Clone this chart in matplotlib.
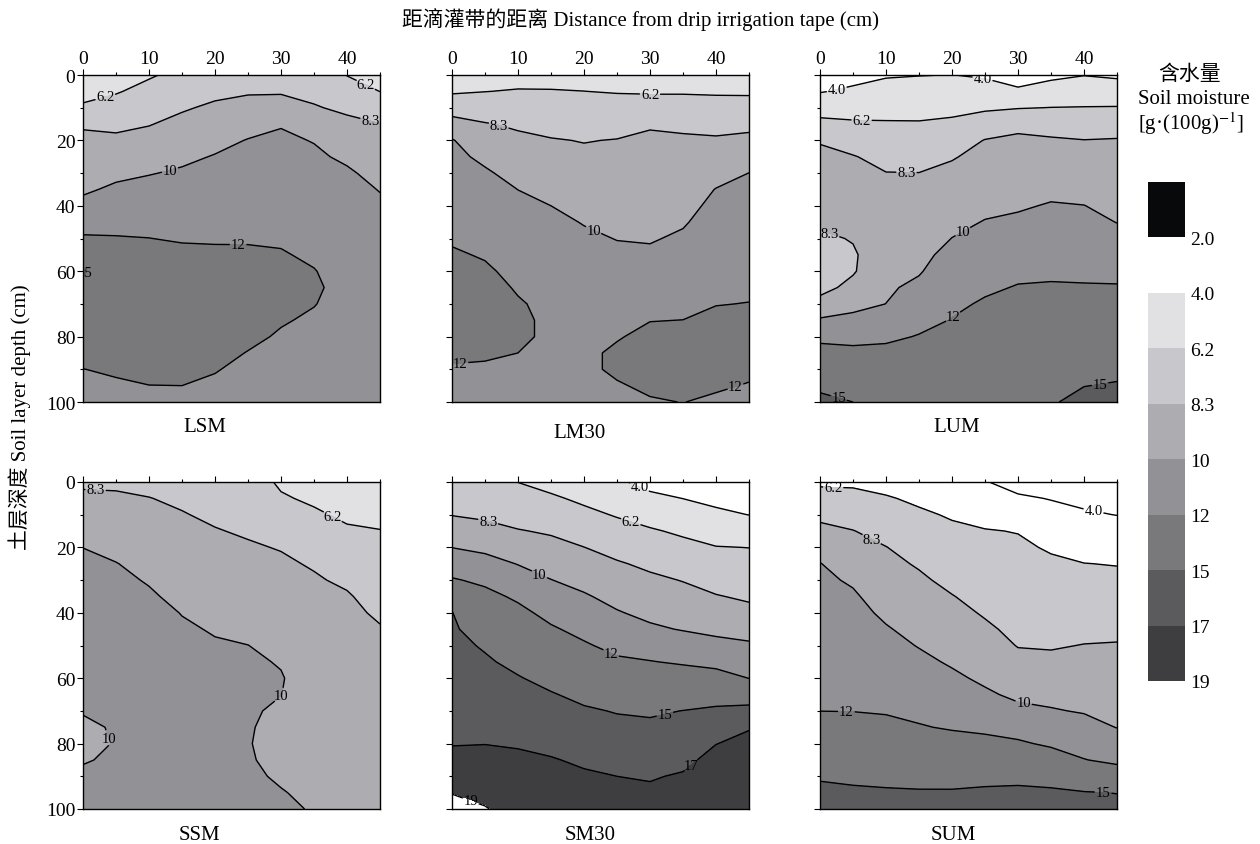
import numpy as np
import matplotlib
matplotlib.use("Agg")
import matplotlib.pyplot as plt
from matplotlib.colors import ListedColormap, BoundaryNorm
from matplotlib.cm import ScalarMappable

plt.rcParams['font.family'] = ['Liberation Serif', 'Noto Sans CJK SC']
plt.rcParams['mathtext.fontset'] = 'stix'

# ---------------- data ----------------
distance = [0, 5, 10, 15, 20, 25, 30, 35, 40, 45]            # cm from drip tape
depth = [0, 5, 10, 15, 20, 25, 30, 35, 40, 45, 50,
         55, 60, 65, 70, 75, 80, 85, 90, 95, 100]            # cm soil depth
levels = [4.0, 6.2, 8.3, 10, 12, 15, 17, 19]
level_text = ['4.0', '6.2', '8.3', '10', '12', '15', '17', '19']
panel_names = ['LSM', 'LM30', 'LUM', 'SSM', 'SM30', 'SUM']
cbar_bounds = [0.0, 2.0, 4.0, 6.2, 8.3, 10, 12, 15, 17, 19]
cbar_text = ['2.0', '4.0', '6.2', '8.3', '10', '12', '15', '17', '19']

# soil moisture, one depth profile (0..100 cm) per distance (0..45 cm)
LSM = [
    [5.0, 5.65, 6.43, 8.15, 8.58, 8.98, 9.38, 9.78, 10.40, 11.26, 12.22, 13.76, 15.2, 14.6, 14.08, 13.55, 13.03, 12.5, 11.98, 11.7, 11.5],
    [5.3, 6.05, 6.96, 7.92, 8.62, 9.15, 9.68, 10.25, 10.88, 11.51, 12.1, 12.8, 13.4, 13.6, 13.5, 13.3, 13.0, 12.6, 12.2, 11.8, 11.6],
    [6.0, 6.77, 7.50, 8.23, 8.81, 9.37, 9.93, 10.46, 10.98, 11.5, 12.02, 12.6, 13.1, 13.4, 13.5, 13.4, 13.2, 12.9, 12.5, 11.98, 11.7],
    [6.7, 7.42, 8.14, 8.70, 9.21, 9.71, 10.18, 10.6, 11.02, 11.43, 11.85, 12.4, 12.9, 13.2, 13.3, 13.2, 13.0, 12.7, 12.35, 12.0, 11.8],
    [7.3, 7.95, 8.55, 9.08, 9.6, 10.08, 10.43, 10.78, 11.13, 11.48, 11.83, 12.3, 12.8, 13.1, 13.1, 12.95, 12.7, 12.4, 12.07, 11.8, 11.6],
    [7.6, 8.15, 8.82, 9.48, 10.06, 10.36, 10.65, 10.95, 11.25, 11.55, 11.85, 12.25, 12.6, 12.8, 12.8, 12.6, 12.3, 11.95, 11.7, 11.5, 11.3],
    [7.6, 8.15, 8.96, 9.91, 10.24, 10.51, 10.77, 11.04, 11.31, 11.57, 11.84, 12.1, 12.35, 12.45, 12.4, 12.12, 11.85, 11.6, 11.4, 11.3, 11.2],
    [7.4, 7.89, 8.42, 9.18, 9.94, 10.24, 10.5, 10.76, 11.02, 11.28, 11.54, 11.8, 12.05, 12.2, 12.05, 11.8, 11.6, 11.45, 11.3, 11.2, 11.1],
    [6.15, 7.08, 8.0, 8.67, 9.21, 9.75, 10.2, 10.5, 10.8, 11.05, 11.25, 11.4, 11.5, 11.55, 11.5, 11.4, 11.3, 11.2, 11.1, 11.0, 10.95],
    [5.6, 6.18, 7.29, 8.34, 8.74, 9.14, 9.54, 9.94, 10.25, 10.5, 10.7, 10.85, 10.95, 11.0, 11.0, 10.95, 10.9, 10.85, 10.8, 10.75, 10.7],
]
LM30 = [
    [5.2, 5.97, 7.45, 9.03, 10.09, 10.37, 10.66, 10.95, 11.23, 11.52, 11.8, 12.2, 12.6, 12.85, 13.0, 12.95, 12.75, 12.3, 11.85, 11.6, 11.45],
    [5.4, 6.17, 7.32, 8.40, 9.05, 9.70, 10.18, 10.52, 10.85, 11.19, 11.52, 11.86, 12.25, 12.6, 12.8, 12.8, 12.6, 12.2, 11.8, 11.55, 11.4],
    [5.5, 6.32, 7.20, 8.07, 8.63, 9.09, 9.54, 9.99, 10.3, 10.6, 10.92, 11.23, 11.53, 11.84, 12.15, 12.3, 12.3, 12.0, 11.7, 11.5, 11.4],
    [5.5, 6.30, 7.03, 7.75, 8.40, 8.80, 9.20, 9.60, 10.0, 10.35, 10.7, 11.0, 11.25, 11.45, 11.6, 11.7, 11.7, 11.6, 11.5, 11.4, 11.3],
    [5.6, 6.21, 6.89, 7.56, 8.24, 8.6, 8.93, 9.26, 9.6, 9.93, 10.25, 10.55, 10.85, 11.1, 11.3, 11.5, 11.65, 11.75, 11.75, 11.7, 11.6],
    [5.6, 6.1, 6.89, 7.69, 8.36, 8.63, 8.9, 9.16, 9.43, 9.7, 9.96, 10.28, 10.6, 10.93, 11.26, 11.58, 11.91, 12.2, 12.2, 11.9, 11.7],
    [5.5, 6.03, 7.0, 8.18, 8.51, 8.74, 8.97, 9.2, 9.43, 9.66, 9.89, 10.23, 10.66, 11.1, 11.53, 11.97, 12.3, 12.5, 12.45, 12.2, 11.9],
    [5.5, 6.04, 6.95, 8.02, 8.5, 8.78, 9.05, 9.33, 9.6, 9.87, 10.2, 10.56, 10.92, 11.29, 11.65, 12.01, 12.3, 12.45, 12.4, 12.2, 12.02],
    [5.5, 6.01, 6.8, 7.74, 8.51, 9.03, 9.55, 10.04, 10.31, 10.59, 10.86, 11.14, 11.41, 11.69, 11.96, 12.3, 12.5, 12.55, 12.4, 12.15, 11.8],
    [5.5, 5.98, 6.83, 7.88, 8.70, 9.36, 10.01, 10.26, 10.51, 10.76, 11.02, 11.27, 11.52, 11.77, 12.03, 12.3, 12.45, 12.4, 12.25, 11.93, 11.7],
]
LUM = [
    [3.2, 3.89, 5.3, 6.77, 8.14, 8.8, 9.2, 9.3, 9.1, 8.6, 8.0, 7.5, 7.4, 7.8, 8.82, 10.19, 11.54, 12.65, 13.63, 14.62, 15.5],
    [3.4, 4.31, 5.4, 6.46, 7.46, 8.4, 8.7, 8.9, 8.9, 8.75, 8.4, 8.1, 8.15, 8.75, 9.53, 10.42, 11.47, 12.43, 13.29, 14.14, 15.0],
    [3.85, 4.63, 5.53, 6.38, 7.06, 7.74, 8.34, 8.55, 8.76, 8.97, 9.17, 9.38, 9.59, 9.8, 10.01, 10.85, 11.67, 12.45, 13.2, 13.7, 14.2],
    [3.95, 4.76, 5.57, 6.35, 7.02, 7.68, 8.32, 8.58, 8.84, 9.1, 9.36, 9.62, 9.88, 10.31, 10.9, 11.5, 12.09, 12.65, 13.15, 13.55, 13.9],
    [4.02, 4.86, 5.71, 6.55, 7.38, 8.2, 8.61, 8.96, 9.32, 9.67, 10.02, 10.43, 10.84, 11.25, 11.66, 12.07, 12.55, 13.0, 13.4, 13.75, 14.05],
    [3.8, 4.73, 5.92, 7.22, 8.37, 8.7, 9.04, 9.37, 9.71, 10.06, 10.48, 10.9, 11.31, 11.73, 12.2, 12.65, 13.05, 13.4, 13.7, 13.95, 14.2],
    [3.0, 4.35, 6.1, 7.93, 8.56, 8.88, 9.2, 9.52, 9.85, 10.24, 10.7, 11.17, 11.63, 12.1, 12.55, 13.0, 13.4, 13.75, 14.05, 14.3, 14.5],
    [3.6, 4.83, 6.23, 7.57, 8.49, 8.89, 9.29, 9.69, 10.1, 10.51, 10.92, 11.33, 11.74, 12.15, 12.6, 13.05, 13.45, 13.85, 14.2, 14.55, 14.85],
    [3.95, 5.09, 6.27, 7.33, 8.34, 8.76, 9.18, 9.6, 10.02, 10.44, 10.85, 11.27, 11.69, 12.12, 12.6, 13.07, 13.55, 14.02, 14.5, 14.97, 15.45],
    [3.7, 5.02, 6.3, 7.5, 8.41, 8.72, 9.03, 9.34, 9.66, 9.97, 10.49, 11.04, 11.58, 12.12, 12.62, 13.12, 13.62, 14.12, 14.62, 15.13, 15.6],
]
SSM = [
    [8.1, 8.54, 9.02, 9.51, 9.99, 10.25, 10.45, 10.6, 10.7, 10.75, 10.75, 10.7, 10.55, 10.35, 10.07, 9.8, 9.7, 9.9, 10.25, 10.45, 10.6],
    [8.1, 8.47, 8.86, 9.25, 9.65, 10.04, 10.25, 10.42, 10.55, 10.62, 10.65, 10.6, 10.5, 10.38, 10.25, 10.1, 10.06, 10.2, 10.35, 10.45, 10.55],
    [7.95, 8.33, 8.64, 8.96, 9.27, 9.59, 9.91, 10.15, 10.3, 10.42, 10.5, 10.55, 10.55, 10.5, 10.45, 10.4, 10.4, 10.42, 10.45, 10.5, 10.55],
    [7.8, 8.09, 8.37, 8.64, 8.9, 9.17, 9.43, 9.7, 9.97, 10.12, 10.22, 10.3, 10.35, 10.35, 10.35, 10.35, 10.35, 10.35, 10.38, 10.4, 10.42],
    [7.5, 7.79, 8.08, 8.37, 8.63, 8.89, 9.15, 9.41, 9.67, 9.93, 10.08, 10.15, 10.2, 10.22, 10.22, 10.22, 10.22, 10.22, 10.25, 10.27, 10.3],
    [7.2, 7.52, 7.83, 8.15, 8.44, 8.7, 8.96, 9.22, 9.48, 9.74, 10.01, 10.12, 10.15, 10.12, 10.08, 10.05, 10.03, 10.05, 10.1, 10.15, 10.2],
    [5.9, 6.41, 7.01, 7.62, 8.23, 8.51, 8.75, 8.99, 9.23, 9.47, 9.71, 9.95, 10.05, 10.01, 9.9, 9.82, 9.8, 9.85, 9.93, 10.03, 10.1],
    [5.2, 5.88, 6.49, 7.05, 7.61, 8.17, 8.45, 8.65, 8.85, 9.05, 9.25, 9.45, 9.6, 9.65, 9.65, 9.65, 9.67, 9.72, 9.8, 9.88, 9.96],
    [4.5, 5.17, 5.85, 6.46, 6.99, 7.53, 8.06, 8.44, 8.64, 8.84, 9.0, 9.15, 9.25, 9.32, 9.38, 9.42, 9.47, 9.52, 9.57, 9.62, 9.67],
    [3.98, 4.77, 5.57, 6.27, 6.63, 7.0, 7.36, 7.72, 8.08, 8.4, 8.6, 8.8, 8.95, 9.05, 9.12, 9.18, 9.23, 9.28, 9.32, 9.36, 9.4],
]
SM30 = [
    [7.0, 7.63, 8.25, 9.1, 9.98, 11.04, 12.16, 13.76, 15.05, 15.28, 15.52, 15.75, 15.98, 16.22, 16.45, 16.69, 16.92, 17.48, 18.21, 18.94, 19.6],
    [6.9, 7.47, 8.05, 8.78, 9.62, 10.62, 11.65, 12.5, 13.27, 14.04, 14.8, 15.25, 15.6, 15.94, 16.29, 16.63, 16.97, 17.49, 18.03, 18.56, 19.1],
    [6.18, 6.9, 7.65, 8.39, 9.16, 9.94, 10.82, 11.71, 12.46, 13.15, 13.83, 14.51, 15.12, 15.56, 15.99, 16.43, 16.86, 17.3, 17.7, 18.05, 18.35],
    [5.6, 6.46, 7.29, 8.12, 8.78, 9.4, 10.03, 10.75, 11.48, 12.21, 12.94, 13.7, 14.45, 15.13, 15.62, 16.11, 16.61, 17.1, 17.45, 17.7, 17.9],
    [5.1, 5.85, 6.65, 7.48, 8.32, 8.92, 9.53, 10.16, 10.83, 11.5, 12.2, 12.98, 13.77, 14.55, 15.22, 15.74, 16.25, 16.77, 17.2, 17.4, 17.55],
    [4.3, 5.18, 6.06, 6.89, 7.72, 8.46, 9.0, 9.54, 10.11, 10.82, 11.52, 12.28, 13.15, 14.02, 14.9, 15.45, 15.97, 16.48, 17.0, 17.25, 17.45],
    [3.4, 4.44, 5.45, 6.4, 7.19, 7.98, 8.61, 9.12, 9.63, 10.24, 11.16, 12.07, 12.96, 13.86, 14.75, 15.36, 15.87, 16.37, 16.88, 17.25, 17.5],
    [3.2, 3.98, 4.94, 5.9, 6.72, 7.48, 8.24, 8.81, 9.36, 9.91, 10.82, 11.8, 12.88, 13.97, 15.03, 15.56, 16.09, 16.62, 17.15, 17.5, 17.8],
    [3.1, 3.63, 4.3, 5.3, 6.27, 6.98, 7.69, 8.39, 9.01, 9.64, 10.44, 11.48, 12.71, 14.14, 15.33, 16.15, 16.97, 17.5, 17.9, 18.2, 18.4],
    [3.0, 3.49, 3.98, 5.07, 6.18, 6.81, 7.44, 8.06, 8.74, 9.45, 10.2, 11.09, 11.98, 13.94, 15.6, 16.9, 17.4, 17.75, 18.0, 18.2, 18.35],
]
SUM = [
    [5.9, 6.91, 7.92, 8.73, 9.43, 10.04, 10.26, 10.47, 10.69, 10.91, 11.12, 11.34, 11.56, 11.77, 11.99, 12.67, 13.39, 14.1, 14.81, 15.44, 15.9],
    [5.9, 6.73, 7.55, 8.35, 8.85, 9.34, 9.84, 10.17, 10.43, 10.69, 10.95, 11.2, 11.46, 11.72, 11.97, 12.61, 13.3, 13.98, 14.66, 15.28, 15.75],
    [5.6, 6.35, 7.02, 7.7, 8.34, 8.69, 9.05, 9.4, 9.75, 10.11, 10.46, 10.81, 11.16, 11.51, 11.87, 12.43, 13.14, 13.84, 14.54, 15.2, 15.6],
    [5.3, 5.89, 6.47, 7.03, 7.59, 8.15, 8.55, 8.9, 9.24, 9.58, 9.93, 10.34, 10.77, 11.2, 11.63, 12.11, 12.89, 13.66, 14.44, 15.15, 15.5],
    [5.0, 5.52, 6.03, 6.52, 6.98, 7.45, 7.91, 8.36, 8.73, 9.09, 9.46, 9.83, 10.28, 10.81, 11.33, 11.85, 12.64, 13.54, 14.43, 15.15, 15.5],
    [4.1, 4.86, 5.62, 6.29, 6.66, 7.04, 7.41, 7.78, 8.16, 8.54, 8.94, 9.34, 9.73, 10.23, 10.93, 11.63, 12.5, 13.53, 14.57, 15.25, 15.6],
    [3.3, 4.26, 5.2, 6.14, 6.48, 6.77, 7.06, 7.35, 7.64, 7.94, 8.24, 8.7, 9.2, 9.7, 10.36, 11.27, 12.24, 13.43, 14.62, 15.3, 15.6],
    [3.2, 3.92, 4.62, 5.33, 6.03, 6.46, 6.8, 7.15, 7.49, 7.83, 8.18, 8.61, 9.1, 9.58, 10.11, 10.92, 11.73, 12.91, 14.29, 15.3, 15.6],
    [3.2, 3.66, 4.18, 4.86, 5.54, 6.23, 6.64, 7.07, 7.49, 7.92, 8.34, 8.73, 9.12, 9.5, 9.89, 10.54, 11.28, 12.06, 13.61, 15.1, 15.5],
    [3.2, 3.58, 3.97, 4.67, 5.4, 6.13, 6.61, 7.06, 7.52, 7.97, 8.39, 8.7, 9.02, 9.33, 9.65, 9.96, 10.75, 11.6, 13.04, 14.96, 15.5],
]
panel_data = [LSM, LM30, LUM, SSM, SM30, SUM]

# ---------------- style / layout ----------------
W, H = 1260, 845
band_colors = ['#e1e1e3', '#c8c7cb', '#adacb0', '#929195', '#79787a', '#5b5a5c', '#3e3d3f']
label_spots = {
    'LSM': [(3.5, 7.6), (42.8, 3.2), (43.6, 13.4), (13.2, 29.2), (23.5, 52.6), (0.6, 60.8)],
    'LM30': [(30.0, 6.6), (7.1, 15.3), (21.5, 47.2), (1.2, 87.8), (42.9, 94.9)],
    'LUM': [(2.6, 5.0), (24.6, 1.7), (6.3, 13.6), (13.1, 29.8), (1.6, 47.6), (21.4, 47.0), (20.2, 74.0), (3.0, 97.6), (42.4, 93.9)],
    'SSM': [(1.9, 2.7), (37.9, 10.4), (30.2, 65.6), (4.6, 77.8)],
    'SM30': [(28.4, 1.6), (5.5, 11.9), (27.1, 12.1), (13.2, 28.5), (24.0, 52.8), (32.3, 71.4), (36.2, 86.6), (3.0, 96.6)],
    'SUM': [(2.0, 1.6), (7.9, 17.2), (41.4, 9.3), (30.8, 68.1), (4.0, 70.6), (42.9, 94.8)],
}
ax_left = [83, 452, 820]
ax_top = [76, 483]
ax_w, ax_h = 297, 327
name_pos = {'LSM': (205, 428), 'LM30': (580, 433), 'LUM': (957, 428),
            'SSM': (199, 836), 'SM30': (590, 836), 'SUM': (953, 836)}

fig = plt.figure(figsize=(W / 100, H / 100), dpi=100)
X, Y = np.meshgrid(np.array(distance, float), np.array(depth, float))
fmt = dict(zip(levels, level_text))

for i, name in enumerate(panel_names):
    r, c = divmod(i, 3)
    ax = fig.add_axes([ax_left[c] / W, 1 - (ax_top[r] + ax_h) / H, ax_w / W, ax_h / H])
    Z = np.array(panel_data[i], float).T
    cols = list(band_colors)
    if name == 'SUM':
        cols[0] = 'white'
    ax.contourf(X, Y, Z, levels=[0.0] + levels + [40.0], colors=['white'] + cols + ['white'])
    cs = ax.contour(X, Y, Z, levels=levels, colors='black', linewidths=1.0)
    txts = ax.clabel(cs, fmt=fmt, manual=label_spots[name], inline=True,
                     inline_spacing=1, fontsize=10.5)
    for t in txts:
        t.set_rotation(0)
    ax.set_xlim(0, 45)
    ax.set_ylim(100, 0)
    ax.xaxis.set_ticks_position('top')
    ax.set_xticks([0, 10, 20, 30, 40])
    ax.set_xticks([5, 15, 25, 35, 45], minor=True)
    ax.set_yticks([0, 20, 40, 60, 80, 100])
    ax.set_yticks([10, 30, 50, 70, 90], minor=True)
    ax.tick_params(which='major', direction='out', length=4, width=0.8, labelsize=14, pad=1.5,
                   top=True, bottom=False, left=True, right=False,
                   labeltop=(r == 0), labelbottom=False, labelleft=(c == 0), labelright=False)
    ax.tick_params(which='minor', direction='out', length=2.3, width=0.8,
                   top=True, bottom=False, left=True, right=False)
    for sp in ax.spines.values():
        sp.set_linewidth(1.0)
    fig.text(name_pos[name][0] / W, 1 - name_pos[name][1] / H, name,
             ha='center', va='center', fontsize=15)

# colorbar
cax = fig.add_axes([1148 / W, 1 - 682 / H, 37 / W, 499 / H])
cmap = ListedColormap(['#08090b', 'white'] + band_colors)
norm = BoundaryNorm(cbar_bounds, cmap.N)
cb = fig.colorbar(ScalarMappable(norm=norm, cmap=cmap), cax=cax, spacing='uniform',
                  ticks=cbar_bounds[1:])
cb.outline.set_visible(False)
cb.set_ticklabels(cbar_text)
cb.minorticks_off()
cax.invert_yaxis()
cax.tick_params(which='both', length=0, labelsize=14, pad=4)
for sp in cax.spines.values():
    sp.set_visible(False)

fig.text(1190 / W, 1 - 75 / H, '含水量', ha='center', va='center', fontsize=15)
fig.text(1138 / W, 1 - 100 / H, 'Soil moisture', ha='left', va='center', fontsize=15)
fig.text(1138 / W, 1 - 124 / H, r'[g·(100g)$^{-1}$]', ha='left', va='center', fontsize=15)

fig.text(640 / W, 1 - 20 / H, '距滴灌带的距离 Distance from drip irrigation tape (cm)',
         ha='center', va='center', fontsize=15)
fig.text(20 / W, 1 - 417 / H, '土层深度 Soil layer depth (cm)', rotation=90,
         ha='center', va='center', fontsize=15)

fig.savefig('out.png', dpi=100)
